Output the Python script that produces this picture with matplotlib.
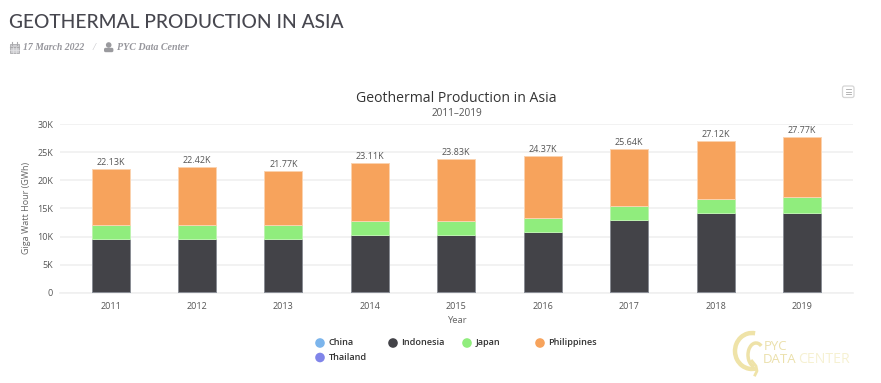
import matplotlib
matplotlib.use("Agg")
import matplotlib.pyplot as plt
import numpy as np
from matplotlib.patches import Rectangle, FancyBboxPatch, Circle, Arc

years = ["2011", "2012", "2013", "2014", "2015", "2016", "2017", "2018", "2019"]
china = [0.12, 0.12, 0.12, 0.12, 0.12, 0.12, 0.12, 0.12, 0.12]
indonesia = [9.40, 9.40, 9.40, 10.10, 10.10, 10.65, 12.80, 14.00, 14.00]
japan = [2.60, 2.60, 2.60, 2.60, 2.55, 2.55, 2.50, 2.50, 2.90]
philippines = [9.95, 10.25, 9.60, 10.25, 11.01, 11.00, 10.17, 10.45, 10.70]
thailand = [0.001] * 9
total_labels = ["22.13K", "22.42K", "21.77K", "23.11K", "23.83K", "24.37K", "25.64K", "27.12K", "27.77K"]
y_ticks = [0, 5, 10, 15, 20, 25, 30]
y_tick_labels = ["0", "5K", "10K", "15K", "20K", "25K", "30K"]
series_names = ["China", "Indonesia", "Japan", "Philippines", "Thailand"]
series_colors = ["#7cb5ec", "#434348", "#90ed7d", "#f7a35c", "#8085e9"]
edge_colors = ["#a9cdf0", "#8a8d94", "#bdf3b0", "#fbd3b0", "none"]

W, H = 881, 383
fig = plt.figure(figsize=(W / 100, H / 100), dpi=100, facecolor="white")
CH = ["Open Sans", "DejaVu Sans"]

# main axes: x 60..853 px, y 124.5..292.5 px
ax = fig.add_axes([60 / W, 1 - 292.5 / H, 793 / W, 168 / H])
x = np.arange(len(years))
bottom = np.zeros(len(years))
for vals, col, ec in zip([china, indonesia, japan, philippines, thailand], series_colors, edge_colors):
    v = np.array(vals)
    ax.bar(x, v, 0.44, bottom=bottom, color=col, edgecolor=ec, linewidth=0.7, zorder=3)
    bottom += v
for xi, top, lab in zip(x, bottom, total_labels):
    ax.annotate(lab, (xi, top), xytext=(0, 1.6), textcoords="offset points", ha="center", va="bottom",
                fontsize=6.5, color="#555555", family=CH, zorder=4)

ax.set_xlim(-0.585, 8.59)
ax.set_ylim(0, 30)
ax.set_xticks(x, years)
ax.set_yticks(y_ticks, y_tick_labels)
ax.grid(axis="y", color="#f0f0f0", linewidth=1.2, zorder=0)
ax.set_axisbelow(True)
for s in ax.spines.values():
    s.set_visible(False)
ax.spines["bottom"].set_visible(True)
ax.spines["bottom"].set_color("#f0f0f0")
ax.spines["bottom"].set_linewidth(1.2)
ax.tick_params(length=0)
ax.tick_params(axis="x", pad=6.5, labelsize=6.5, labelcolor="#555555")
ax.tick_params(axis="y", pad=5, labelsize=6.5, labelcolor="#555555")
for t in ax.get_xticklabels() + ax.get_yticklabels():
    t.set_family(CH)

# overlay in pixel coordinates
ov = fig.add_axes([0, 0, 1, 1], zorder=10)
ov.set_xlim(0, W)
ov.set_ylim(H, 0)
ov.axis("off")
ov.patch.set_alpha(0)

ov.text(9, 22, "GEOTHERMAL PRODUCTION IN ASIA", fontsize=13.8, color="#47474f", family="Lato",
        va="center", ha="left", fontweight="medium")
ov.text(23, 48, "17 March 2022", fontsize=7.0, color="#96969c", family="Liberation Serif", style="italic",
        fontweight="bold", va="center")
ov.text(92, 48, "/", fontsize=7.5, color="#c4c4c8", family="Liberation Serif", style="italic", va="center")
ov.text(117, 48, "PYC Data Center", fontsize=7.2, color="#96969c", family="Liberation Serif", style="italic",
        fontweight="bold", va="center")

# calendar icon
ov.add_patch(Rectangle((10, 44), 8.5, 8.5, facecolor="#d0d0d3", edgecolor="#aaaaad", lw=0.6))
ov.plot([10, 18.5], [46.5, 46.5], color="#aaaaad", lw=0.8)
ov.plot([10, 18.5], [49.5, 49.5], color="#e4e4e6", lw=0.5)
ov.plot([13, 13], [46.5, 52.5], color="#e4e4e6", lw=0.5)
ov.plot([15.7, 15.7], [46.5, 52.5], color="#e4e4e6", lw=0.5)
ov.plot([12, 12], [42, 45], color="#aaaaad", lw=0.8)
ov.plot([16.5, 16.5], [42, 45], color="#aaaaad", lw=0.8)
# person icon
ov.add_patch(Circle((108.7, 45), 2.8, color="#9a9a9e", lw=0))
ov.add_patch(FancyBboxPatch((104, 47.8), 9.4, 4.4, boxstyle="round,pad=0,rounding_size=1.6", color="#9a9a9e", lw=0))

ov.text(456.5, 98.5, "Geothermal Production in Asia", fontsize=10.05, color="#333333", family=CH, ha="center", va="center")
ov.text(456.5, 113, "2011\u20132019", fontsize=7.2, color="#555555", family=CH, ha="center", va="center")

ov.text(27, 208, "Giga Watt Hour (GWh)", fontsize=6.5, color="#666666", family=CH, rotation=90, ha="center", va="center")
ov.text(456.5, 320.5, "Year", fontsize=6.8, color="#666666", family=CH, ha="center", va="center")

# export menu button
ov.add_patch(FancyBboxPatch((842.5, 86), 11.5, 11.5, boxstyle="round,pad=0,rounding_size=2",
                            facecolor="white", edgecolor="#d5d5d5", lw=0.9))
for yy in (89.2, 91.7, 94.2):
    ov.plot([845.5, 851], [yy, yy], color="#a8a8a8", lw=0.6)

# legend
legend_pos = [(320, 343), (393, 343), (467, 343), (540, 343), (320, 357.5)]
for name, col, (lx, ly) in zip(series_names, series_colors, legend_pos):
    ov.add_patch(Circle((lx, ly), 4.8, color=col, lw=0))
    ov.text(lx + 8.5, ly - 0.5, name, fontsize=6.6, color="#333333", family=CH, fontweight="semibold", va="center")

# watermark
ov.add_patch(Arc((752, 351), 34, 36, theta1=75, theta2=280, color="#efe3a8", lw=3.2))
ov.add_patch(Arc((756, 355), 16, 24, theta1=100, theta2=300, color="#eee2a8", lw=2.5))
ov.plot([752, 756, 757, 755], [361, 366, 371, 375], color="#efe3a8", lw=2)
ov.text(764, 346.5, "PYC", fontsize=9.5, color="#ebe0ab", family=CH, va="center")
ov.text(763, 359.5, "DATA", fontsize=9.5, color="#ebe0ab", family=CH, va="center")
ov.text(798.5, 359.5, "CENTER", fontsize=10.2, color="#f6f1d2", family=CH, va="center")

fig.savefig("out.png", dpi=100, facecolor="white")
